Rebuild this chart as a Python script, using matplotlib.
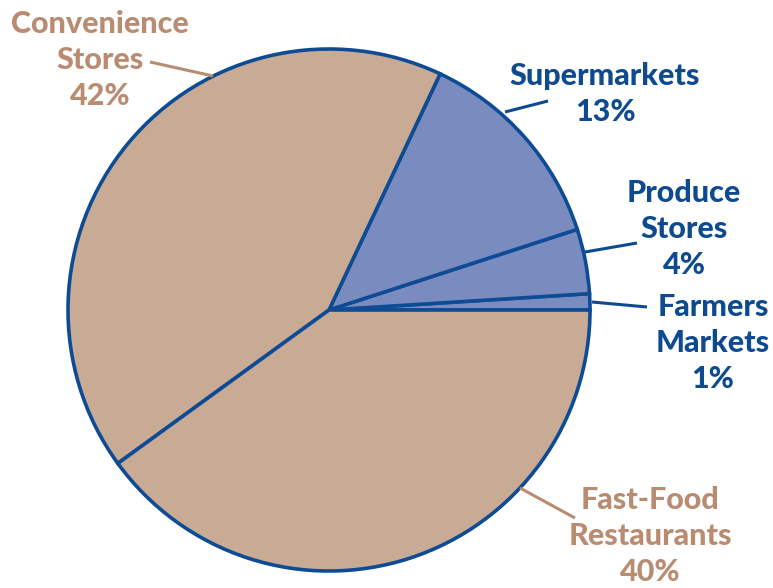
import matplotlib.pyplot as plt

# ------------------------------------------------------------
# Data
# ------------------------------------------------------------
categories = ["Farmers\nMarkets", "Produce\nStores", "Supermarkets",
              "Convenience\nStores", "Fast-Food\nRestaurants"]
shares = [1, 4, 13, 42, 40]

# ------------------------------------------------------------
# Style
# ------------------------------------------------------------
TAN = "#C9AA95"
BLUE = "#7A8CBF"
EDGE = "#0D4C94"
TAN_TEXT = "#B98C72"
BLUE_TEXT = "#0E4A90"

W, H = 773, 588
fig = plt.figure(figsize=(W / 100, H / 100), dpi=100)
ax = fig.add_axes([0, 0, 1, 1])

# pixel y (from top) -> data y
def py(y):
    return H - y

colors = [BLUE, BLUE, BLUE, TAN, TAN]
ax.pie(shares, colors=colors, startangle=0, counterclock=True,
       center=(329, py(310)), radius=261, frame=True,
       wedgeprops=dict(edgecolor=EDGE, linewidth=2.6))
ax.set_xlim(0, W)
ax.set_ylim(0, H)
ax.set_aspect("equal")
ax.axis("off")

# ------------------------------------------------------------
# Labels + leader lines
# ------------------------------------------------------------
labels = [
    # text, x, y(middle px), colour, leader line
    (f"{categories[3]}\n{shares[3]}%", 100, 60, TAN_TEXT, [(150, 62), (213, 76)]),
    (f"{categories[2]}\n{shares[2]}%", 605, 94, BLUE_TEXT, [(505, 112), (548, 101)]),
    (f"{categories[1]}\n{shares[1]}%", 684, 229, BLUE_TEXT, [(585, 252), (637, 243)]),
    (f"{categories[0]}\n{shares[0]}%", 713, 343, BLUE_TEXT, [(592, 302), (647, 307)]),
    (f"{categories[4]}\n{shares[4]}%", 650, 536, TAN_TEXT, [(520, 488), (575, 518)]),
]

for text, x, y, col, line in labels:
    ax.text(x, py(y), text, ha="center", va="center", color=col,
            fontsize=22, fontweight="black", family="Lato",
            linespacing=1.34)
    xs = [p[0] for p in line]
    ys = [py(p[1]) for p in line]
    ax.plot(xs, ys, color=col, linewidth=2.2, solid_capstyle="butt")

fig.savefig("out.png", dpi=100)
